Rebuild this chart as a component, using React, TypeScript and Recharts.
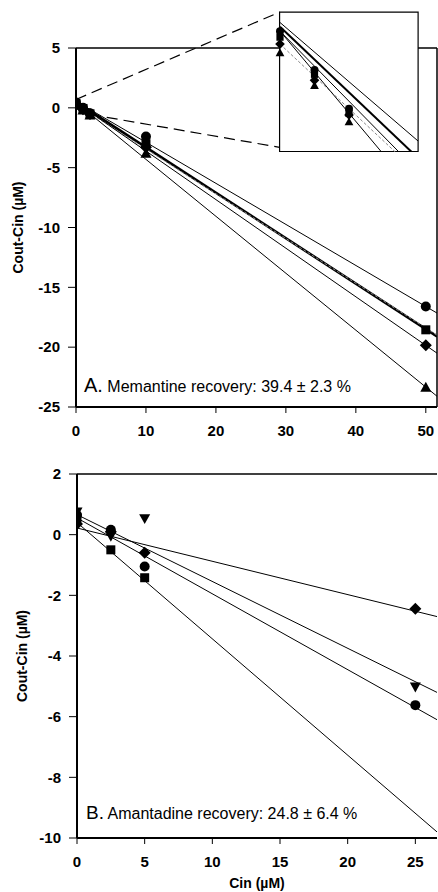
import {
  ComposedChart,
  Line,
  Scatter,
  XAxis,
  YAxis,
  ReferenceLine,
  ReferenceArea,
} from "recharts";

// Panel A: memantine, Cin (µM) vs Cout-Cin (µM)
const memX = [0, 1, 2, 10, 50];
const memCircle = [0.45, 0.0, -0.45, -2.4, -16.6];
const memSquare = [0.38, -0.05, -0.5, -3.0, -18.55];
const memDiamond = [0.3, -0.12, -0.52, -3.3, -19.85];
const memTriangle = [0.2, -0.18, -0.6, -3.8, -23.35];

// fitted lines, value at x = 0 and at the right edge
const memFitX = [0, 51.6];
const memFitCircle = [0.55, -17.15];
const memFitSquare = [0.5, -19.1];
const memFitGray = [0.3, -19.0];
const memFitDiamond = [0.45, -20.5];
const memFitTriangle = [0.45, -24.1];

const memXTicks = [0, 10, 20, 30, 40, 50];
const memYTicks = [5, 0, -5, -10, -15, -20, -25];

// Panel B: amantadine
const amaX = [0, 2.5, 5, 25];
const amaDiamond = [0.35, 0.1, -0.6, -2.44];
const amaInvTri = [0.75, -0.05, 0.53, -5.02];
const amaCircle = [0.65, 0.16, -1.05, -5.62];
const amaSquareX = [0, 2.5, 5];
const amaSquare = [0.55, -0.5, -1.42];

const amaFitX = [0, 26.6];
const amaFitDiamond = [0.22, -2.7];
const amaFitInvTri = [0.66, -5.2];
const amaFitCircle = [0.55, -6.1];
const amaFitSquare = [0.4, -9.8];

const amaXTicks = [0, 5, 10, 15, 20, 25];
const amaYTicks = [2, 0, -2, -4, -6, -8, -10];

const pts = (xs: number[], ys: number[]) => xs.map((x, i) => ({ x, y: ys[i] }));

const FONT = "'Liberation Sans', Arial, Helvetica, sans-serif";

const Marker = ({ cx, cy, kind, s = 1 }: any) => {
  if (cx == null || cy == null) return null;
  if (kind === "circle") return <circle cx={cx} cy={cy} r={5 * s} fill="#000" />;
  if (kind === "square") {
    const h = 4.5 * s;
    return <rect x={cx - h} y={cy - h} width={2 * h} height={2 * h} fill="#000" />;
  }
  if (kind === "diamond") {
    const h = 6 * s;
    return <path d={`M${cx},${cy - h}L${cx + h},${cy}L${cx},${cy + h}L${cx - h},${cy}Z`} fill="#000" />;
  }
  if (kind === "triangle") {
    const h = 5.5 * s;
    return <path d={`M${cx},${cy - h}L${cx + h},${cy + h * 0.8}L${cx - h},${cy + h * 0.8}Z`} fill="#000" />;
  }
  const h = 5.5 * s;
  return <path d={`M${cx},${cy + h}L${cx + h},${cy - h * 0.8}L${cx - h},${cy - h * 0.8}Z`} fill="#000" />;
};

const tickStyle = { fill: "#000", fontSize: 15, fontWeight: 700, fontFamily: FONT };
const axisLineStyle = { stroke: "#000", strokeWidth: 2 };

const memSeries = [
  { ys: memCircle, kind: "circle" },
  { ys: memSquare, kind: "square" },
  { ys: memDiamond, kind: "diamond" },
  { ys: memTriangle, kind: "triangle" },
];

const memFits = [
  { ys: memFitCircle, w: 1, c: "#000", dash: undefined },
  { ys: memFitSquare, w: 2.6, c: "#000", dash: undefined },
  { ys: memFitGray, w: 1, c: "#888", dash: "3 2" },
  { ys: memFitDiamond, w: 1, c: "#000", dash: undefined },
  { ys: memFitTriangle, w: 1, c: "#000", dash: undefined },
];

const amaSeries = [
  { xs: amaX, ys: amaDiamond, kind: "diamond" },
  { xs: amaX, ys: amaInvTri, kind: "invtri" },
  { xs: amaX, ys: amaCircle, kind: "circle" },
  { xs: amaSquareX, ys: amaSquare, kind: "square" },
];

const amaFits = [amaFitDiamond, amaFitInvTri, amaFitCircle, amaFitSquare];

export default function App() {
  return (
    <div style={{ position: "absolute", left: 0, top: 0, width: 438, height: 892, background: "#fff", fontFamily: FONT }}>
      {/* Panel A */}
      <div style={{ position: "absolute", left: 0, top: 0 }}>
        <ComposedChart width={438} height={440} margin={{ top: 48, right: 1, left: 0, bottom: 0 }}>
          <XAxis
            dataKey="x"
            type="number"
            domain={[0, 51.6]}
            ticks={memXTicks}
            allowDataOverflow
            height={33}
            tickSize={6}
            tickMargin={12}
            tick={tickStyle}
            axisLine={axisLineStyle}
            tickLine={{ stroke: "#000" }}
          />
          <YAxis
            dataKey="y"
            type="number"
            domain={[-25, 5]}
            ticks={memYTicks}
            width={76}
            tickSize={8}
            tickMargin={8}
            tick={tickStyle}
            axisLine={axisLineStyle}
            tickLine={{ stroke: "#000" }}
            label={{
              value: "Cout-Cin (µM)",
              angle: -90,
              position: "insideLeft",
              offset: 18,
              style: { textAnchor: "middle", fill: "#000", fontSize: 14, fontWeight: 700, fontFamily: FONT },
            }}
          />
          {/* frame */}
          <ReferenceLine segment={[{ x: 0, y: 5 }, { x: 29.1, y: 5 }]} stroke="#000" strokeWidth={1.5} ifOverflow="visible" />
          <ReferenceLine segment={[{ x: 48.9, y: 5 }, { x: 51.6, y: 5 }]} stroke="#000" strokeWidth={1.5} ifOverflow="visible" />
          <ReferenceLine segment={[{ x: 51.6, y: 5 }, { x: 51.6, y: -25 }]} stroke="#000" strokeWidth={1.5} ifOverflow="visible" />
          {/* zoom connectors and inset box */}
          <ReferenceLine segment={[{ x: 0, y: 0.7 }, { x: 29.1, y: 8.0 }]} stroke="#000" strokeWidth={1.2} strokeDasharray="11 6" ifOverflow="visible" />
          <ReferenceLine segment={[{ x: 2, y: -0.55 }, { x: 29.1, y: -3.3 }]} stroke="#000" strokeWidth={1.2} strokeDasharray="11 6" ifOverflow="visible" />
          <ReferenceArea x1={29.1} x2={48.9} y1={-3.65} y2={8.0} fill="#fff" fillOpacity={1} stroke="#000" strokeWidth={1.2} ifOverflow="visible" />
          {memFits.map((f, i) => (
            <Line
              key={"mf" + i}
              data={pts(memFitX, f.ys)}
              dataKey="y"
              stroke={f.c}
              strokeWidth={f.w}
              strokeDasharray={f.dash}
              dot={false}
              activeDot={false}
              isAnimationActive={false}
            />
          ))}
          {memSeries.map((s, i) => (
            <Scatter
              key={"ms" + i}
              data={pts(memX, s.ys)}
              dataKey="y"
              isAnimationActive={false}
              shape={(p: any) => <Marker cx={p.cx} cy={p.cy} kind={s.kind} />}
            />
          ))}
        </ComposedChart>
      </div>

      {/* Inset of panel A: enlarged view of low concentrations */}
      <div style={{ position: "absolute", left: 274, top: 13 }}>
        <ComposedChart width={144} height={139} margin={{ top: 0, right: 0, left: 0, bottom: 0 }}>
          <XAxis dataKey="x" type="number" domain={[-0.174, 4]} allowDataOverflow hide />
          <YAxis dataKey="y" type="number" domain={[-0.95, 0.66]} allowDataOverflow hide />
          {memFits.map((f, i) => (
            <Line
              key={"if" + i}
              data={pts(memFitX, f.ys)}
              dataKey="y"
              stroke={f.c}
              strokeWidth={f.w === 1 ? 1 : 2}
              strokeDasharray={f.dash}
              dot={false}
              activeDot={false}
              isAnimationActive={false}
            />
          ))}
          {memSeries.map((s, i) => (
            <Scatter
              key={"is" + i}
              data={pts(memX, s.ys)}
              dataKey="y"
              isAnimationActive={false}
              shape={(p: any) => <Marker cx={p.cx} cy={p.cy} kind={s.kind} s={0.8} />}
            />
          ))}
        </ComposedChart>
      </div>

      {/* Panel B */}
      <div style={{ position: "absolute", left: 0, top: 440 }}>
        <ComposedChart width={438} height={452} margin={{ top: 34, right: 1, left: 0, bottom: 0 }}>
          <XAxis
            dataKey="x"
            type="number"
            domain={[0, 26.6]}
            ticks={amaXTicks}
            allowDataOverflow
            height={54}
            tickSize={6}
            tickMargin={12}
            tick={tickStyle}
            axisLine={axisLineStyle}
            tickLine={{ stroke: "#000" }}
            label={{
              value: "Cin (µM)",
              position: "insideBottom",
              offset: 4,
              style: { fill: "#000", fontSize: 14, fontWeight: 700, fontFamily: FONT },
            }}
          />
          <YAxis
            dataKey="y"
            type="number"
            domain={[-10, 2]}
            ticks={amaYTicks}
            width={77}
            tickSize={8}
            tickMargin={8}
            tick={tickStyle}
            axisLine={axisLineStyle}
            tickLine={{ stroke: "#000" }}
            label={{
              value: "Cout-Cin (µM)",
              angle: -90,
              position: "insideLeft",
              offset: 22,
              style: { textAnchor: "middle", fill: "#000", fontSize: 14, fontWeight: 700, fontFamily: FONT },
            }}
          />
          <ReferenceLine segment={[{ x: 0, y: 2 }, { x: 26.6, y: 2 }]} stroke="#000" strokeWidth={1.5} ifOverflow="visible" />
          {amaFits.map((ys, i) => (
            <Line
              key={"af" + i}
              data={pts(amaFitX, ys)}
              dataKey="y"
              stroke="#000"
              strokeWidth={1}
              dot={false}
              activeDot={false}
              isAnimationActive={false}
            />
          ))}
          {amaSeries.map((s, i) => (
            <Scatter
              key={"as" + i}
              data={pts(s.xs, s.ys)}
              dataKey="y"
              isAnimationActive={false}
              shape={(p: any) => <Marker cx={p.cx} cy={p.cy} kind={s.kind} />}
            />
          ))}
        </ComposedChart>
      </div>

      {/* panel annotations */}
      <svg width={438} height={892} style={{ position: "absolute", left: 0, top: 0, pointerEvents: "none" }}>
        <text x={84} y={392} fontFamily={FONT} fill="#000">
          <tspan fontSize={20}>A.</tspan>
          <tspan fontSize={16}> Memantine recovery: 39.4 ± 2.3 %</tspan>
        </text>
        <text x={86} y={819} fontFamily={FONT} fill="#000">
          <tspan fontSize={19}>B.</tspan>
          <tspan fontSize={16}> Amantadine recovery: 24.8 ± 6.4 %</tspan>
        </text>
      </svg>
    </div>
  );
}
